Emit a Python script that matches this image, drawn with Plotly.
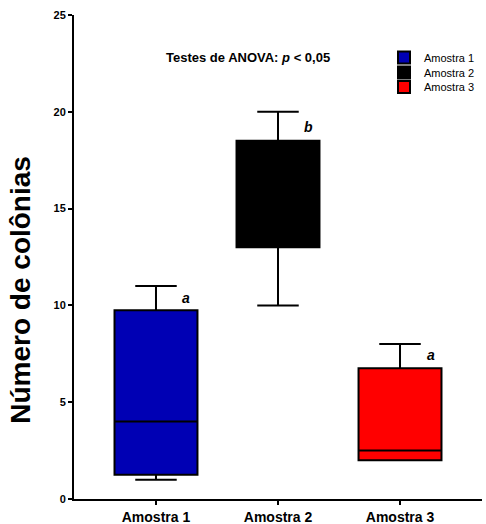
import plotly.graph_objects as go

categories = ["Amostra 1", "Amostra 2", "Amostra 3"]
lower_whisker = [1.0, 10.0, 2.0]
q1_values = [1.25, 13.0, 2.0]
median_values = [4.0, 15.75, 2.5]
q3_values = [9.75, 18.5, 6.75]
upper_whisker = [11.0, 20.0, 8.0]
fill_colors = ["#0000B4", "#000000", "#FF0000"]
letters = ["a", "b", "a"]
letter_y = [10.4, 19.2, 7.45]
y_ticks = [0, 5, 10, 15, 20, 25]

FONT = "Arial, Liberation Sans, sans-serif"
L, R, T, B = 74, 4, 15, 24.5
PW, PH = 486 - L - R, 524 - T - B


def px_x(p):
    return (p - L) / PW


def px_y(p):
    return (524 - B - p) / PH


legend_names = ["legend", "legend2", "legend3"]
legend_rows = [57.5, 72.5, 87]

fig = go.Figure()
for i, cat in enumerate(categories):
    fig.add_trace(go.Box(
        name=cat,
        x=[i],
        q1=[q1_values[i]],
        median=[median_values[i]],
        q3=[q3_values[i]],
        lowerfence=[lower_whisker[i]],
        upperfence=[upper_whisker[i]],
        fillcolor=fill_colors[i],
        line=dict(color="black", width=2),
        width=0.68,
        whiskerwidth=0.5,
        boxpoints=False,
        hoverinfo="skip",
        legend=legend_names[i],
    ))

for i, (t, yv) in enumerate(zip(letters, letter_y)):
    fig.add_annotation(x=i + 0.25, y=yv, text=f"<b><i>{t}</i></b>", showarrow=False,
                       xref="x", yref="y", font=dict(family=FONT, size=14, color="black"))

fig.add_annotation(x=px_x(248), y=px_y(57.5), xref="paper", yref="paper",
                   xanchor="center", yanchor="middle",
                   text="<b>Testes de ANOVA: <i>p</i> &lt; 0,05</b>", showarrow=False,
                   font=dict(family=FONT, size=13, color="black"))

fig.add_annotation(x=px_x(21), y=px_y(290), xref="paper", yref="paper",
                   xanchor="center", yanchor="middle",
                   text="<b>Número de colônias</b>", textangle=-90, showarrow=False,
                   font=dict(family=FONT, size=28, color="black"))

legend_common = dict(xanchor="left", yanchor="middle", font=dict(family=FONT, size=11, color="black"),
                     bgcolor="rgba(0,0,0,0)")
layout_legends = {}
for name, row in zip(legend_names, legend_rows):
    layout_legends[name] = dict(x=px_x(384), y=px_y(row), **legend_common)

fig.update_layout(
    width=486, height=524,
    margin=dict(l=L, r=R, t=T, b=B),
    paper_bgcolor="white", plot_bgcolor="white",
    showlegend=True,
    xaxis=dict(
        range=[-0.672, 2.672], tickmode="array", tickvals=[0, 1, 2], ticktext=[f"<b>{c}</b>" for c in categories],
        showline=True, linecolor="black", linewidth=2, ticks="outside", ticklen=4, tickwidth=1.5,
        tickcolor="black", showgrid=False, zeroline=False, automargin=False,
        tickfont=dict(family=FONT, size=14, color="black"),
    ),
    yaxis=dict(
        range=[0, 25], tickmode="array", tickvals=y_ticks, ticktext=[f"<b>{v}</b>" for v in y_ticks],
        showline=True, linecolor="black", linewidth=2, ticks="outside", ticklen=4, tickwidth=1.5,
        tickcolor="black", showgrid=False, zeroline=False, automargin=False,
        tickfont=dict(family=FONT, size=11, color="black"),
    ),
    **layout_legends,
)

fig.write_html("out.html", config={"displayModeBar": False},
               post_script="document.body.style.margin='0';")
